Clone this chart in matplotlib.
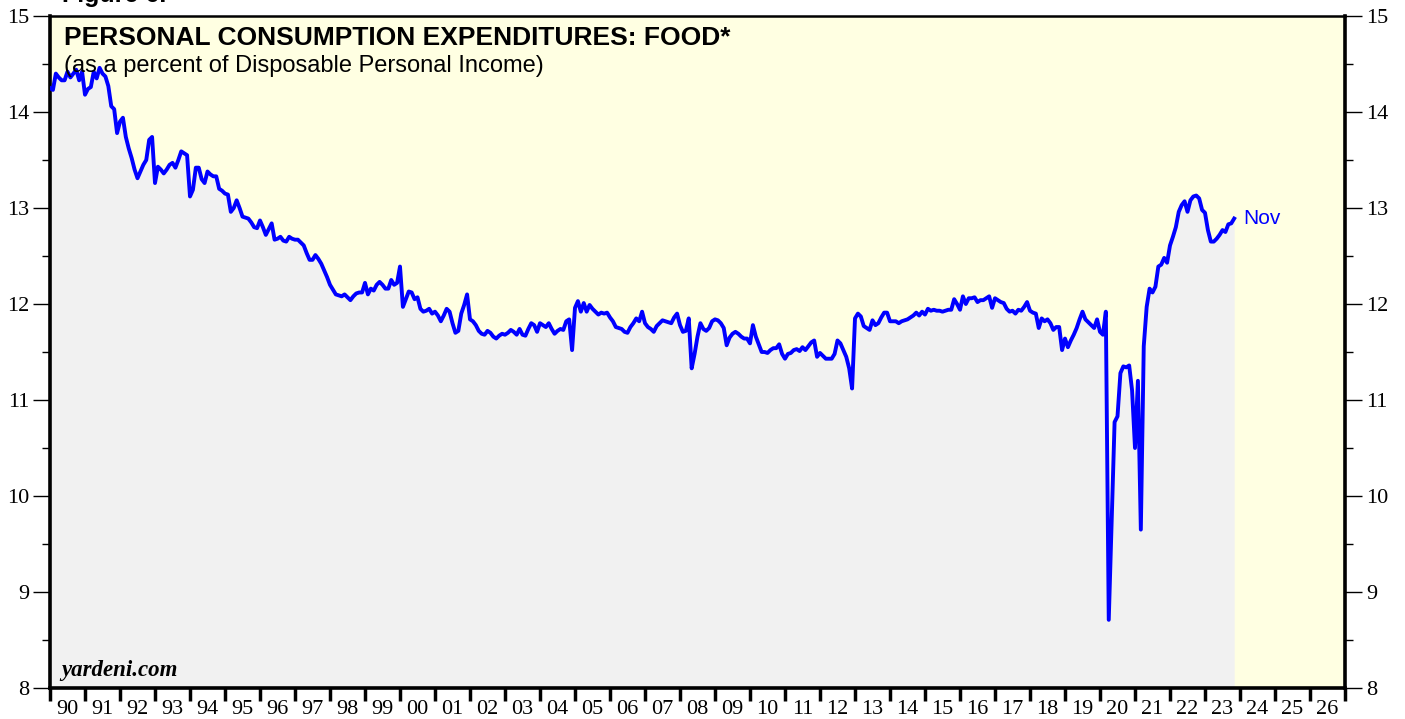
import numpy as np
import matplotlib.pyplot as plt
from matplotlib.ticker import MultipleLocator, FixedLocator, NullFormatter

# PCE food as % of disposable personal income, monthly Jan 1990 - Nov 2023
y1990 = [14.25, 14.23, 14.40, 14.36, 14.33, 14.33, 14.42, 14.36, 14.40, 14.44, 14.33, 14.42]
y1991 = [14.18, 14.24, 14.26, 14.42, 14.35, 14.46, 14.40, 14.37, 14.27, 14.06, 14.03, 13.78]
y1992 = [13.90, 13.94, 13.74, 13.62, 13.52, 13.40, 13.31, 13.38, 13.45, 13.50, 13.71, 13.74]
y1993 = [13.26, 13.43, 13.40, 13.36, 13.40, 13.45, 13.47, 13.42, 13.50, 13.59, 13.57, 13.55]
y1994 = [13.12, 13.19, 13.42, 13.42, 13.30, 13.26, 13.38, 13.35, 13.33, 13.33, 13.20, 13.18]
y1995 = [13.15, 13.14, 12.96, 13.00, 13.08, 13.00, 12.91, 12.90, 12.89, 12.85, 12.80, 12.79]
y1996 = [12.87, 12.80, 12.72, 12.78, 12.84, 12.67, 12.68, 12.70, 12.66, 12.65, 12.70, 12.68]
y1997 = [12.67, 12.67, 12.64, 12.61, 12.53, 12.46, 12.46, 12.51, 12.47, 12.42, 12.35, 12.28]
y1998 = [12.20, 12.15, 12.10, 12.09, 12.08, 12.10, 12.07, 12.04, 12.08, 12.11, 12.12, 12.12]
y1999 = [12.22, 12.10, 12.16, 12.14, 12.20, 12.23, 12.20, 12.16, 12.16, 12.25, 12.20, 12.22]
y2000 = [12.39, 11.97, 12.05, 12.13, 12.12, 12.05, 12.07, 11.95, 11.92, 11.93, 11.95, 11.90]
y2001 = [11.92, 11.88, 11.82, 11.88, 11.95, 11.92, 11.80, 11.70, 11.72, 11.90, 11.99, 12.10]
y2002 = [11.84, 11.82, 11.78, 11.72, 11.69, 11.68, 11.72, 11.70, 11.66, 11.64, 11.67, 11.69]
y2003 = [11.68, 11.70, 11.73, 11.71, 11.68, 11.74, 11.68, 11.67, 11.74, 11.80, 11.78, 11.71]
y2004 = [11.80, 11.78, 11.76, 11.80, 11.74, 11.69, 11.72, 11.74, 11.73, 11.82, 11.84, 11.52]
y2005 = [11.96, 12.03, 11.92, 12.01, 11.92, 11.99, 11.95, 11.92, 11.89, 11.91, 11.90, 11.91]
y2006 = [11.86, 11.82, 11.76, 11.75, 11.74, 11.71, 11.70, 11.76, 11.80, 11.85, 11.82, 11.92]
y2007 = [11.80, 11.76, 11.74, 11.71, 11.77, 11.80, 11.83, 11.82, 11.81, 11.80, 11.86, 11.90]
y2008 = [11.78, 11.71, 11.72, 11.85, 11.33, 11.48, 11.66, 11.80, 11.74, 11.72, 11.75, 11.82]
y2009 = [11.84, 11.83, 11.80, 11.75, 11.57, 11.65, 11.69, 11.71, 11.69, 11.66, 11.64, 11.64]
y2010 = [11.59, 11.78, 11.66, 11.58, 11.50, 11.50, 11.49, 11.52, 11.54, 11.54, 11.58, 11.48]
y2011 = [11.43, 11.48, 11.49, 11.52, 11.53, 11.51, 11.55, 11.52, 11.56, 11.60, 11.62, 11.45]
y2012 = [11.49, 11.46, 11.43, 11.43, 11.43, 11.48, 11.62, 11.59, 11.52, 11.45, 11.33, 11.12]
y2013 = [11.85, 11.90, 11.87, 11.77, 11.75, 11.73, 11.83, 11.78, 11.80, 11.86, 11.91, 11.91]
y2014 = [11.82, 11.82, 11.82, 11.80, 11.82, 11.83, 11.84, 11.86, 11.88, 11.91, 11.88, 11.92]
y2015 = [11.89, 11.95, 11.93, 11.94, 11.93, 11.93, 11.92, 11.93, 11.94, 11.94, 12.05, 12.00]
y2016 = [11.94, 12.08, 12.00, 12.06, 12.06, 12.07, 12.02, 12.04, 12.04, 12.06, 12.08, 11.96]
y2017 = [12.06, 12.04, 12.02, 12.01, 11.95, 11.92, 11.93, 11.90, 11.94, 11.93, 11.97, 12.02]
y2018 = [11.93, 11.91, 11.90, 11.75, 11.85, 11.82, 11.84, 11.80, 11.73, 11.76, 11.76, 11.52]
y2019 = [11.64, 11.55, 11.62, 11.68, 11.75, 11.84, 11.92, 11.84, 11.81, 11.78, 11.75, 11.84]
y2020 = [11.71, 11.68, 11.92, 8.71, 9.75, 10.77, 10.83, 11.28, 11.35, 11.34, 11.36, 11.10]
y2021 = [10.50, 11.20, 9.65, 11.56, 11.97, 12.16, 12.12, 12.18, 12.39, 12.41, 12.48, 12.43]
y2022 = [12.61, 12.70, 12.80, 12.96, 13.03, 13.07, 12.96, 13.08, 13.12, 13.13, 13.10, 12.98]
y2023 = [12.95, 12.77, 12.65, 12.65, 12.68, 12.72, 12.77, 12.75, 12.83, 12.84, 12.89]

food = np.array(y1990 + y1991 + y1992 + y1993 + y1994 + y1995 + y1996 + y1997 + y1998
                + y1999 + y2000 + y2001 + y2002 + y2003 + y2004 + y2005 + y2006 + y2007
                + y2008 + y2009 + y2010 + y2011 + y2012 + y2013 + y2014 + y2015 + y2016
                + y2017 + y2018 + y2019 + y2020 + y2021 + y2022 + y2023)
dates = 1990 + np.arange(len(food)) / 12.0

years = list(range(1990, 2027))
year_labels = ['%02d' % (y % 100) for y in years]

serif = 'Liberation Serif'
sans = 'Liberation Sans'

fig = plt.figure(figsize=(14.05, 7.19), dpi=100)
ax = fig.add_axes([50 / 1405, 31 / 719, 1295 / 1405, 672 / 719])
ax.set_facecolor('#ffffe2')

ax.fill_between(dates, 8, food, color='#f1f1f1', lw=0, zorder=1)
ax.plot(dates, food, color='#0000ff', lw=2.8, zorder=3, solid_joinstyle='round')
ax.text(dates[-1] + 0.25, food[-1], 'Nov', color='#0000ff', fontsize=15,
        family=sans, va='center', ha='left')

ax.set_xlim(1990, 2027)
ax.set_ylim(8, 15)

# y axis on both sides
ax.yaxis.set_major_locator(MultipleLocator(1))
ax.yaxis.set_minor_locator(MultipleLocator(0.5))
ax.tick_params(axis='y', which='major', direction='out', length=12, width=1,
               left=True, right=True, labelleft=True, labelright=True,
               labelsize=16, pad=3)
ax.tick_params(axis='y', which='minor', direction='out', length=6, width=1,
               left=True, right=True)
for lab in ax.get_yticklabels():
    lab.set_family(serif)

# x axis: ticks at year boundaries, labels centred in each year
ax.xaxis.set_major_locator(FixedLocator(years + [2027]))
ax.xaxis.set_major_formatter(NullFormatter())
ax.xaxis.set_minor_locator(FixedLocator([y + 0.5 for y in years]))
ax.set_xticklabels(year_labels, minor=True)
ax.tick_params(axis='x', which='major', direction='out', length=9, width=2.5)
ax.tick_params(axis='x', which='minor', length=0, labelsize=16, pad=9)
for lab in ax.get_xticklabels(minor=True):
    lab.set_family(serif)

for side in ['left', 'bottom', 'right']:
    ax.spines[side].set_linewidth(2.6)
ax.spines['top'].set_linewidth(1.8)

ax.text(0.011, 0.968, 'PERSONAL CONSUMPTION EXPENDITURES: FOOD*', transform=ax.transAxes,
        fontsize=19, fontweight='bold', family=sans, va='center', ha='left')
ax.text(0.011, 0.925, '(as a percent of Disposable Personal Income)', transform=ax.transAxes,
        fontsize=17, family=sans, va='center', ha='left')
ax.text(0.009, 0.010, 'yardeni.com', transform=ax.transAxes, fontsize=16.5,
        fontweight='bold', style='italic', family=serif, va='bottom', ha='left')

# figure caption, cut off at the top edge as in the source
fig.text(62 / 1405, 1 - 2 / 719, 'Figure 6.', fontsize=18, fontweight='bold',
         family=sans, va='baseline', ha='left')

fig.savefig('out.png', dpi=100)
